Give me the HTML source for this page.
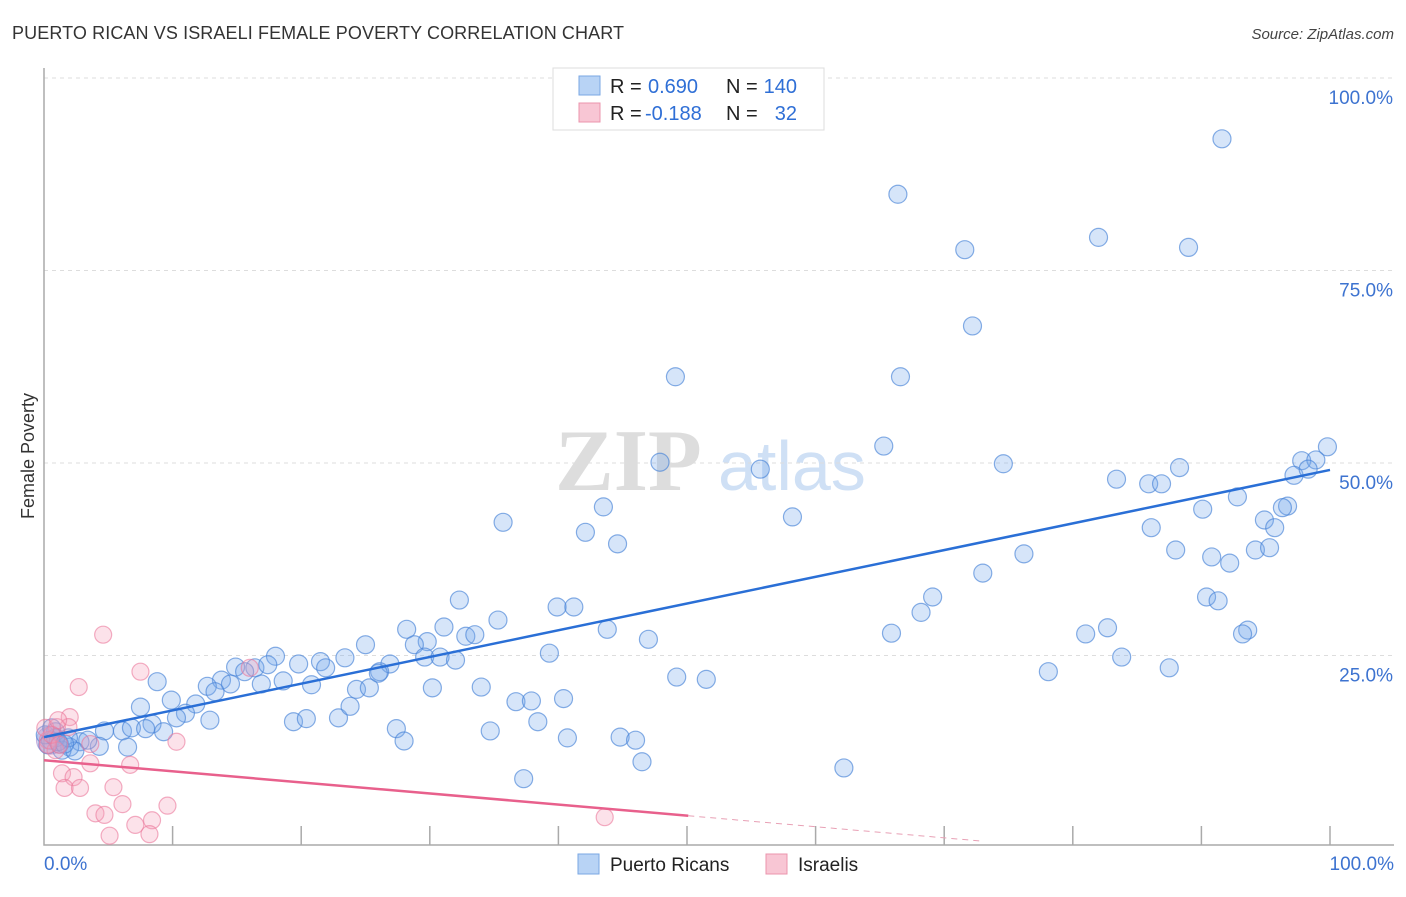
<!DOCTYPE html>
<html><head><meta charset="utf-8"><style>
body{margin:0;background:#fff;font-family:"Liberation Sans",sans-serif}
</style></head><body>
<svg width="1406" height="892" xmlns="http://www.w3.org/2000/svg" id="svg">
<text x="12" y="39" font-size="18" fill="#333" textLength="612">PUERTO RICAN VS ISRAELI FEMALE POVERTY CORRELATION CHART</text>
<text x="1394" y="39" font-size="15" fill="#444" font-style="italic" text-anchor="end">Source: ZipAtlas.com</text>
<text x="555" y="490" font-size="88" fill="#ddd" font-family="Liberation Serif" font-weight="bold">ZIP</text>
<text x="718" y="490" font-size="70" fill="#cfe0f5">atlas</text>
<text transform="translate(34,456) rotate(-90)" font-size="18" fill="#333" text-anchor="middle">Female Poverty</text>
<g id="grid"></g><g id="pts"></g><g id="lines"></g>
<g>
<rect x="553" y="68" width="271" height="62" fill="#fff" stroke="#ddd"/>
<rect x="579" y="76" width="21" height="19" fill="#b8d3f5" stroke="#7aa7e3"/>
<rect x="579" y="103" width="21" height="19" fill="#f8c6d4" stroke="#eb94ad"/>
<text x="610" y="93" font-size="20" fill="#222">R =</text><text x="648" y="93" font-size="20" fill="#2f6fd6">0.690</text>
<text x="726" y="93" font-size="20" fill="#222">N =</text><text x="797" y="93" font-size="20" fill="#2f6fd6" text-anchor="end">140</text>
<text x="610" y="120" font-size="20" fill="#222">R =</text><text x="645" y="120" font-size="20" fill="#2f6fd6">-0.188</text>
<text x="726" y="120" font-size="20" fill="#222">N =</text><text x="797" y="120" font-size="20" fill="#2f6fd6" text-anchor="end">32</text>
</g>
<g>
<rect x="578" y="854" width="21" height="20" fill="#b8d3f5" stroke="#7aa7e3"/>
<text x="610" y="871" font-size="19" fill="#222">Puerto Ricans</text>
<rect x="766" y="854" width="21" height="20" fill="#f8c6d4" stroke="#eb94ad"/>
<text x="798" y="871" font-size="19" fill="#222">Israelis</text>
</g>
</svg>
<script>
const blueX=[91.6,66.4,82.0,89.0,71.6,72.2,49.1,66.6,65.3,99.8,47.9,97.8,98.9,97.2,98.3,55.7,74.6,83.4,85.9,86.9,88.3,92.8,90.1,96.7,96.3,94.9,95.7,35.7,43.5,42.1,44.6,58.2,86.1,88.0,90.8,92.2,94.2,95.3,76.2,73.0,32.3,39.9,41.2,35.3,28.2,31.1,69.1,68.2,65.9,90.4,91.3,93.6,93.2,82.7,81.0,43.8,29.8,32.8,33.5,47.0,25.0,28.8,29.6,30.8,32.0,39.3,83.8,78.1,87.5,18.0,19.8,21.5,21.9,23.4,26.9,26.1,14.9,16.4,15.6,17.4,8.8,13.8,14.5,12.7,16.9,18.6,20.8,24.3,25.3,26.0,30.2,34.0,49.2,51.5,13.3,9.9,11.8,7.5,11.0,10.3,12.9,19.4,20.4,22.9,23.8,36.7,37.9,40.4,38.4,8.4,4.7,6.1,6.8,7.9,9.3,27.4,34.7,28.0,40.7,44.8,46.0,46.5,37.3,62.2,2.8,4.3,6.5,2.0,1.2,3.4,0.9,0.5,1.4,2.4,0.1,0.3,0.9,1.9,0.6,1.1,1.6];
const blueY=[92.1,84.9,79.3,78.0,77.7,67.8,61.2,61.2,52.2,52.1,50.1,50.3,50.4,48.4,49.2,49.2,49.9,47.9,47.3,47.3,49.4,45.6,44.0,44.4,44.2,42.6,41.6,42.3,44.3,41.0,39.5,43.0,41.6,38.7,37.8,37.0,38.7,39.0,38.2,35.7,32.2,31.3,31.3,29.6,28.4,28.7,32.6,30.6,27.9,32.6,32.1,28.3,27.8,28.6,27.8,28.4,26.8,27.5,27.7,27.1,26.4,26.4,24.8,24.8,24.4,25.3,24.8,22.9,23.4,24.9,23.9,24.2,23.4,24.7,23.9,22.9,23.5,23.4,22.9,23.8,21.6,21.8,21.3,21.0,21.3,21.7,21.2,20.6,20.8,22.7,20.8,20.9,22.2,21.9,20.3,19.2,18.7,18.3,17.5,16.9,16.6,16.4,16.8,16.9,18.4,19.0,19.1,19.4,16.4,16.1,15.2,15.2,15.6,15.5,15.1,15.5,15.2,13.9,14.3,14.4,14.0,11.2,9.0,10.4,13.8,13.2,13.1,13.1,13.5,14.0,15.1,14.0,12.7,12.6,14.7,13.4,14.3,14.3,15.6,13.8,13.5];
const pinkX=[4.6,7.5,2.7,16.0,2.0,1.9,1.0,0.3,0.9,3.6,10.3,3.6,1.4,2.3,6.7,5.4,1.6,2.8,6.1,4.0,4.7,8.4,9.6,7.1,8.2,5.1,43.6,0.3,0.6,1.2,0.1,1.1];
const pinkY=[27.7,22.9,20.9,23.4,17.0,15.7,15.7,14.0,12.7,13.5,13.8,11.0,9.7,9.2,10.8,7.9,7.8,7.8,5.7,4.5,4.3,3.6,5.5,3.0,1.8,1.6,4.0,13.4,14.7,13.4,15.6,16.6];
const blueTrend=[14.4,49.1];
const pinkTrend=[11.4,-0.144];
const yTicks=[25,50,75,100];
const xTicks=[0,10,20,30,40,50,60,70,80,90,100];
const NS="http://www.w3.org/2000/svg";
const sx=v=>44+v*12.86, sy=v=>848-v*7.7;
function mk(t,a,p){const e=document.createElementNS(NS,t);for(const k in a)e.setAttribute(k,a[k]);document.getElementById(p).appendChild(e);return e;}
yTicks.forEach(t=>{
 const g=mk('line',{x1:44,x2:1394,y1:sy(t),y2:sy(t),stroke:'#ddd','stroke-dasharray':'4,4'},'grid');
 
 
 const l=mk('text',{x:1393,y:sy(t)+26,'font-size':19,fill:'#3d73d0','text-anchor':'end'},'grid');
 l.textContent=t.toFixed(1)+'%';
 
 
});
const ax=mk('path',{d:`M44 68 V845 H1394`,stroke:'#aaa',fill:'none','stroke-width':1.5},'grid');


xTicks.slice(1).forEach(t=>{
 const k=mk('line',{x1:sx(t),x2:sx(t),y1:826,y2:845,stroke:'#aaa','stroke-width':1.5},'grid');
 
 
});
[[0,'start',44],[100,'end',1394]].forEach(([v,a,x])=>{
 const l=mk('text',{x:x,y:870,'font-size':19,fill:'#3d73d0','text-anchor':a},'grid');
 l.textContent=v.toFixed(1)+'%';
 
 
});
const big=mk('circle',{cx:sx(0.5),cy:sy(14),r:14,fill:'rgba(150,130,200,0.35)',stroke:'rgba(150,120,200,0.5)'},'pts');


blueX.forEach((x,i)=>{
 const c=mk('circle',{cx:sx(x),cy:sy(blueY[i]),r:9,fill:'rgba(120,170,235,0.3)',stroke:'rgba(70,130,215,0.65)','stroke-width':1.2},'pts');
 
 
});
pinkX.forEach((x,i)=>{
 const c=mk('circle',{cx:sx(x),cy:sy(pinkY[i]),r:8.5,fill:'rgba(245,160,185,0.3)',stroke:'rgba(235,120,155,0.6)','stroke-width':1.2},'pts');
 
 
});
const bl=mk('line',{x1:sx(0),y1:sy(blueTrend[0]),x2:sx(100),y2:sy(blueTrend[1]),stroke:'#2a6fd6','stroke-width':2.5},'lines');


const pf=x=>pinkTrend[0]+pinkTrend[1]*x;
const pl=mk('line',{x1:sx(0),y1:sy(pf(0)),x2:sx(50.1),y2:sy(pf(50.1)),stroke:'#e8608c','stroke-width':2.5},'lines');


const pd=mk('line',{x1:sx(50.1),y1:sy(pf(50.1)),x2:sx(72.8),y2:sy(pf(72.8)),stroke:'#e8a0b5','stroke-width':1,'stroke-dasharray':'6,5'},'lines');


</script>
</body></html>
